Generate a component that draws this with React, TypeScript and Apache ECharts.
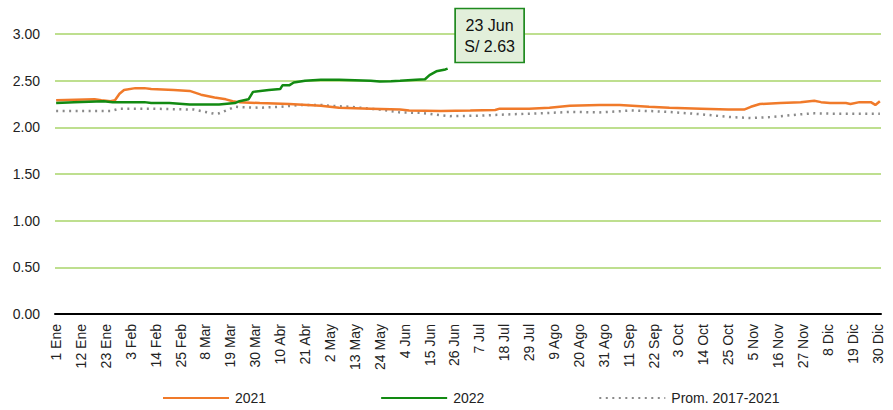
import React, { useEffect, useRef } from "react";
import * as echarts from "echarts";

const monthNames = ["Ene", "Feb", "Mar", "Abr", "May", "Jun", "Jul", "Ago", "Sep", "Oct", "Nov", "Dic"];
const monthDays = [31, 28, 31, 30, 31, 30, 31, 31, 30, 31, 30, 31];

const categories: string[] = [];
monthNames.forEach((m, i) => {
  for (let d = 1; d <= monthDays[i]; d++) categories.push(`${d} ${m}`);
});

const dates2021 = [
  "1 Ene", "18 Ene", "21 Ene", "25 Ene", "27 Ene", "29 Ene", "31 Ene", "5 Feb", "9 Feb", "12 Feb",
  "22 Feb", "1 Mar", "6 Mar", "12 Mar", "17 Mar", "20 Mar", "23 Mar", "1 Abr", "14 Abr", "28 Abr",
  "6 May", "20 May", "2 Jun", "6 Jun", "20 Jun", "3 Jul", "14 Jul", "16 Jul", "29 Jul", "7 Ago",
  "16 Ago", "29 Ago", "7 Sep", "20 Sep", "29 Sep", "13 Oct", "25 Oct", "1 Nov", "4 Nov", "8 Nov",
  "17 Nov", "26 Nov", "2 Dic", "5 Dic", "9 Dic", "16 Dic", "18 Dic", "22 Dic", "27 Dic", "29 Dic", "31 Dic",
];
const values2021 = [
  2.29, 2.3, 2.29, 2.28, 2.29, 2.36, 2.4, 2.42, 2.42, 2.41,
  2.4, 2.39, 2.35, 2.32, 2.3, 2.28, 2.27, 2.26, 2.25, 2.23,
  2.21, 2.2, 2.19, 2.18, 2.175, 2.18, 2.185, 2.2, 2.2, 2.21,
  2.23, 2.24, 2.24, 2.22, 2.21, 2.2, 2.19, 2.19, 2.22, 2.25,
  2.26, 2.27, 2.285, 2.27, 2.26, 2.26, 2.25, 2.27, 2.27, 2.24, 2.28,
];

const dates2022 = [
  "1 Ene", "9 Ene", "22 Ene", "26 Ene", "9 Feb", "12 Feb", "20 Feb", "23 Feb", "1 Mar", "14 Mar",
  "21 Mar", "23 Mar", "27 Mar", "29 Mar", "5 Abr", "10 Abr", "11 Abr", "14 Abr", "16 Abr", "21 Abr",
  "28 Abr", "6 May", "20 May", "24 May", "29 May", "2 Jun", "9 Jun", "13 Jun", "15 Jun", "18 Jun",
  "22 Jun", "23 Jun",
];
const values2022 = [
  2.26, 2.27, 2.28, 2.27, 2.27, 2.26, 2.26, 2.255, 2.245, 2.245,
  2.26, 2.28, 2.3, 2.38, 2.4, 2.41, 2.45, 2.45, 2.48, 2.5,
  2.51, 2.51, 2.5, 2.49, 2.495, 2.5, 2.51, 2.515, 2.56, 2.6,
  2.62, 2.63,
];

const datesProm = [
  "1 Ene", "25 Ene", "29 Ene", "12 Feb", "3 Mar", "8 Mar", "12 Mar", "14 Mar", "18 Mar", "21 Mar",
  "25 Mar", "1 Abr", "10 Abr", "19 Abr", "28 Abr", "2 May", "11 May", "24 May", "2 Jun", "11 Jun",
  "20 Jun", "24 Jun", "7 Jul", "21 Jul", "3 Ago", "16 Ago", "29 Ago", "12 Sep", "20 Sep", "29 Sep",
  "13 Oct", "26 Oct", "4 Nov", "13 Nov", "26 Nov", "2 Dic", "13 Dic", "31 Dic",
];
const valuesProm = [
  2.175, 2.175, 2.2, 2.2, 2.19, 2.165, 2.145, 2.15, 2.19, 2.22,
  2.215, 2.21, 2.22, 2.24, 2.24, 2.23, 2.22, 2.19, 2.16, 2.155,
  2.13, 2.12, 2.125, 2.14, 2.15, 2.165, 2.16, 2.18, 2.175, 2.165,
  2.14, 2.11, 2.1, 2.11, 2.14, 2.15, 2.145, 2.145,
];

const yTicks = [0, 0.5, 1, 1.5, 2, 2.5, 3];

const FONT = "'Liberation Sans', Arial, sans-serif";

const toPairs = (dates: string[], vals: number[]) =>
  dates.map((d, i) => [categories.indexOf(d), vals[i]]);

export default function App() {
  const ref = useRef<HTMLDivElement>(null);
  useEffect(() => {
    if (!ref.current) return;
    const chart = echarts.init(ref.current, null, { renderer: "svg" });
    const lastDate = dates2022[dates2022.length - 1];
    const lastVal = values2022[values2022.length - 1];
    chart.setOption({
      animation: false,
      textStyle: { fontFamily: FONT },
      grid: { left: 55, right: 12, top: 34, bottom: 96 },
      legend: {
        data: ["2021", "2022", "Prom. 2017-2021"],
        left: 157,
        top: 386,
        itemWidth: 66,
        itemHeight: 12,
        itemGap: 114,
        itemStyle: { opacity: 0 },
        textStyle: { fontFamily: FONT, fontSize: 14, color: "#222", padding: [0, 0, 0, 1] },
      },
      xAxis: {
        type: "category",
        data: categories,
        boundaryGap: true,
        axisLine: { lineStyle: { color: "#000", width: 2 } },
        axisTick: { show: false },
        axisLabel: {
          interval: 10,
          rotate: 90,
          margin: 10,
          fontFamily: FONT,
          fontSize: 14,
          color: "#222",
        },
        splitLine: { show: false },
      },
      yAxis: {
        type: "value",
        min: yTicks[0],
        max: yTicks[yTicks.length - 1],
        interval: 0.5,
        axisLine: { show: false },
        axisTick: { show: false },
        axisLabel: {
          margin: 15,
          fontFamily: FONT,
          fontSize: 14,
          color: "#222",
          formatter: (v: number) => v.toFixed(2),
        },
        splitLine: { lineStyle: { color: "#a9d46a", width: 1.5 } },
      },
      series: [
        {
          name: "2021",
          type: "line",
          data: toPairs(dates2021, values2021),
          symbol: "none",
          lineStyle: { color: "#f07a2a", width: 2.5 },
          itemStyle: { color: "#f07a2a" },
          z: 3,
        },
        {
          name: "2022",
          type: "line",
          data: toPairs(dates2022, values2022),
          symbol: "none",
          lineStyle: { color: "#128a12", width: 2.5 },
          itemStyle: { color: "#128a12" },
          z: 4,
          markPoint: {
            silent: true,
            data: [
              {
                coord: [categories.indexOf(lastDate), lastVal],
                symbol: "rect",
                symbolSize: [69, 54],
                symbolOffset: [42, -33],
                itemStyle: { color: "#e2efda", borderColor: "#1f8a1f", borderWidth: 1.5 },
                label: {
                  show: true,
                  position: "inside",
                  formatter: `${lastDate}\nS/ ${lastVal.toFixed(2)}`,
                  fontFamily: FONT,
                  fontSize: 16,
                  lineHeight: 21,
                  color: "#111",
                },
              },
            ],
          },
        },
        {
          name: "Prom. 2017-2021",
          type: "line",
          data: toPairs(datesProm, valuesProm),
          symbol: "none",
          lineStyle: { color: "#8a8a8a", width: 2.5, type: [2, 4.5] },
          itemStyle: { color: "#8a8a8a" },
          z: 2,
        },
      ],
    });
    return () => chart.dispose();
  }, []);
  return (
    <div
      ref={ref}
      style={{ position: "fixed", left: 0, top: 0, width: 893, height: 410, background: "#fff" }}
    />
  );
}
